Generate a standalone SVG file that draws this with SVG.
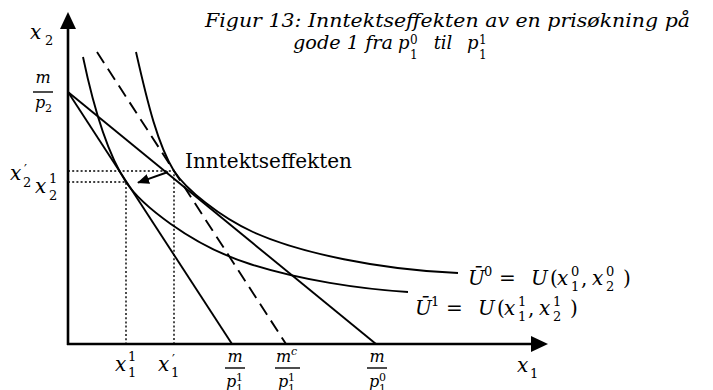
<svg xmlns="http://www.w3.org/2000/svg" width="713" height="390" viewBox="0 0 713 390">
<style>
.ax{stroke:#000;stroke-width:2.6;fill:none}
.ln{stroke:#000;stroke-width:1.9;fill:none}
.dash{stroke:#000;stroke-width:1.9;fill:none;stroke-dasharray:13 7}
.dot{stroke:#000;stroke-width:1.4;fill:none;stroke-dasharray:2 2.2}
.bar{stroke:#000;stroke-width:1.4}
.mi{font-family:'DejaVu Serif',serif;font-style:italic;font-size:20px}
.mn{font-family:'DejaVu Serif',serif;font-size:20px}
.s{font-family:'DejaVu Serif',serif;font-size:13px}
.fi{font-family:'DejaVu Serif',serif;font-style:italic;font-size:16px}
.fs{font-family:'DejaVu Serif',serif;font-size:11px}
.t{font-family:'DejaVu Serif',serif;font-style:italic;font-size:18px}
.ts{font-family:'DejaVu Serif',serif;font-style:normal;font-size:12px}
.lab{font-family:'DejaVu Serif',serif;font-size:20px}
</style>
<defs>
<marker id="ah" markerWidth="12" markerHeight="10" refX="11" refY="5" orient="auto" markerUnits="userSpaceOnUse">
<path d="M0,0 L12,5 L0,10 Z" fill="#000"/>
</marker>
</defs>

<g id="axes">
<line class="ax" x1="68" y1="345" x2="68" y2="27"/>
<polygon points="68,12 60,29 76,29" fill="#000"/>
<line class="ax" x1="67" y1="344" x2="533" y2="344"/>
<polygon points="548,344 531,336 531,352" fill="#000"/>
</g>

<g id="dotted-guides">
<path class="dot" d="M68,171 H174 V344"/>
<path class="dot" d="M68,182 H126 V344"/>
</g>

<g id="budget-lines">
<line class="ln" x1="68" y1="92" x2="232" y2="344"/>
<line class="ln" x1="68" y1="92" x2="376" y2="344"/>
<line class="dash" x1="97" y1="52" x2="286" y2="344"/>
</g>

<g id="indifference-curves">
<path id="U0" class="ln" d="M136,52 C148,105 158,145 174,171 C186,189.5 220,217 253,232 C300,253 380,270 458,273"/>
<path id="U1" class="ln" d="M83,57 C92,100 105,150 126,182 C140,203.5 190,245 250,264 C300,280 360,289 408,292"/>
</g>

<g id="connectors">
<line class="ln" x1="168" y1="172" x2="138" y2="182.6" marker-end="url(#ah)"/>
</g>

<g id="title">
<text class="t" x="205" y="27" textLength="485" lengthAdjust="spacingAndGlyphs">Figur 13: Inntektseffekten av en prisøkning på</text>
<text class="t" x="293" y="49" textLength="100" lengthAdjust="spacingAndGlyphs">gode 1 fra</text>
<text class="t" x="398" y="49">p</text>
<text class="ts" x="410" y="44">0</text>
<text class="ts" x="410" y="59">1</text>
<text class="t" x="443" y="49" text-anchor="middle">til</text>
<text class="t" x="467" y="49">p</text>
<text class="ts" x="479" y="44">1</text>
<text class="ts" x="479" y="59">1</text>
</g>

<g id="label-income-effect">
<text class="lab" x="185" y="168" textLength="167" lengthAdjust="spacingAndGlyphs">Inntektseffekten</text>
</g>

<g id="label-x2-axis">
<text class="mi" x="30" y="39">x</text>
<text class="s" x="45" y="45">2</text>
</g>

<g id="label-m-p2">
<text class="fi" x="43" y="83" text-anchor="middle">m</text>
<line class="bar" x1="33" y1="92" x2="53" y2="92"/>
<text class="fi" x="35" y="108">p</text>
<text class="fs" x="45" y="112">2</text>
</g>

<g id="label-x2prime">
<text class="mi" x="10" y="180">x</text>
<text class="s" x="24" y="174">′</text>
<text class="s" x="23" y="187">2</text>
</g>

<g id="label-x21">
<text class="mi" x="35" y="193">x</text>
<text class="s" x="49" y="183">1</text>
<text class="s" x="49" y="200">2</text>
</g>

<g id="label-x11">
<text class="mi" x="115" y="371">x</text>
<text class="s" x="128" y="361">1</text>
<text class="s" x="128" y="377">1</text>
</g>

<g id="label-x1prime">
<text class="mi" x="158" y="371">x</text>
<text class="s" x="172" y="364">′</text>
<text class="s" x="171" y="377">1</text>
</g>

<g id="label-m-p11">
<text class="fi" x="235" y="362" text-anchor="middle">m</text>
<line class="bar" x1="225" y1="368" x2="245" y2="368"/>
<text class="fi" x="226" y="387">p</text>
<text class="fs" x="236" y="381">1</text>
<text class="fs" x="236" y="392">1</text>
</g>

<g id="label-mc-p11">
<text class="fi" x="276" y="362">m</text>
<text class="fs" x="291" y="355" font-style="italic">c</text>
<line class="bar" x1="275" y1="368" x2="300" y2="368"/>
<text class="fi" x="278" y="387">p</text>
<text class="fs" x="288" y="381">1</text>
<text class="fs" x="288" y="392">1</text>
</g>

<g id="label-m-p10">
<text class="fi" x="377" y="362" text-anchor="middle">m</text>
<line class="bar" x1="367" y1="368" x2="387" y2="368"/>
<text class="fi" x="369" y="387">p</text>
<text class="fs" x="379" y="381">0</text>
<text class="fs" x="379" y="392">1</text>
</g>

<g id="label-x1-axis">
<text class="mi" x="517" y="372">x</text>
<text class="s" x="530" y="378">1</text>
</g>

<g id="label-U0">
<text class="mi" x="468" y="285">Ū</text>
<text class="s" x="484" y="276">0</text>
<text class="mn" x="499" y="285">=</text>
<text class="mi" x="531" y="285">U</text>
<text class="mn" x="550" y="285">(</text>
<text class="mi" x="557" y="285">x</text>
<text class="s" x="571" y="276">0</text>
<text class="s" x="571" y="291">1</text>
<text class="mn" x="581" y="285">,</text>
<text class="mi" x="592" y="285">x</text>
<text class="s" x="606" y="276">0</text>
<text class="s" x="606" y="291">2</text>
<text class="mn" x="623" y="285">)</text>
</g>

<g id="label-U1">
<text class="mi" x="415" y="315">Ū</text>
<text class="s" x="431" y="306">1</text>
<text class="mn" x="446" y="315">=</text>
<text class="mi" x="478" y="315">U</text>
<text class="mn" x="497" y="315">(</text>
<text class="mi" x="504" y="315">x</text>
<text class="s" x="518" y="306">1</text>
<text class="s" x="518" y="321">1</text>
<text class="mn" x="528" y="315">,</text>
<text class="mi" x="539" y="315">x</text>
<text class="s" x="553" y="306">1</text>
<text class="s" x="553" y="321">2</text>
<text class="mn" x="570" y="315">)</text>
</g>
</svg>
